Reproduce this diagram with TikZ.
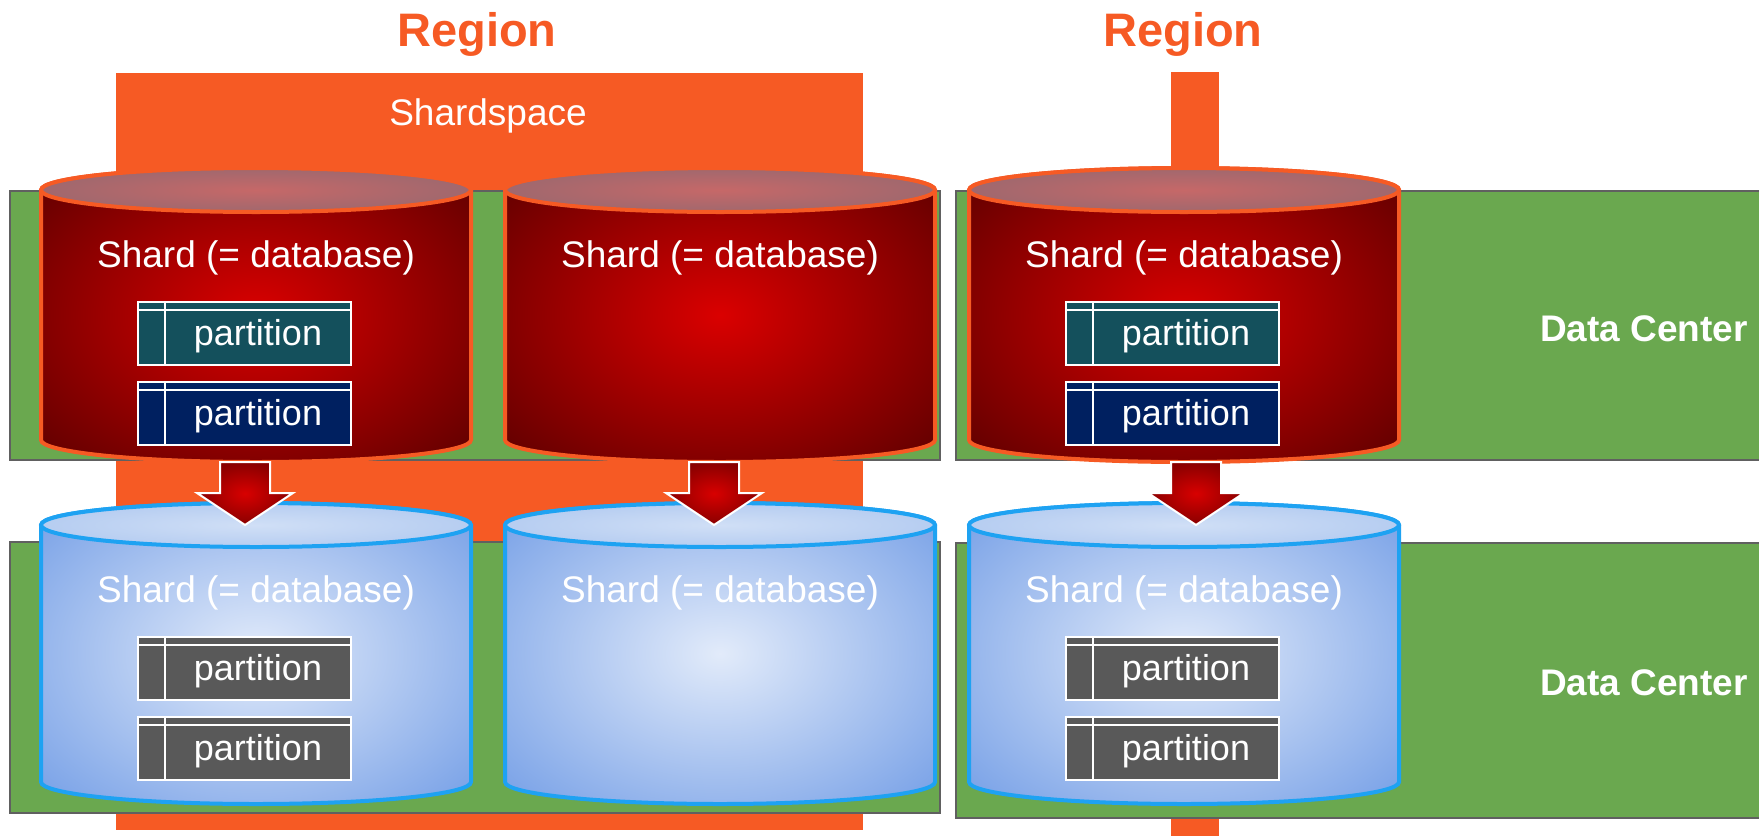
\documentclass[tikz,border=0pt]{standalone}
\usepackage{fontspec}
\setmainfont{Liberation Sans}

\definecolor{regionorange}{RGB}{246,90,36}
\definecolor{dcgreen}{RGB}{106,168,79}
\definecolor{dcedge}{RGB}{96,96,96}
\definecolor{shardred}{RGB}{218,0,0}
\definecolor{sharddark}{RGB}{92,0,0}
\definecolor{lidred}{RGB}{198,104,104}
\definecolor{lidredrim}{RGB}{160,104,110}
\definecolor{replicalight}{RGB}{226,235,250}
\definecolor{replicadark}{RGB}{116,158,230}
\definecolor{lidblue}{RGB}{208,223,246}
\definecolor{lidbluerim}{RGB}{182,205,241}
\definecolor{replicaedge}{RGB}{30,162,242}
\definecolor{partteal}{RGB}{20,80,92}
\definecolor{partnavy}{RGB}{0,32,96}
\definecolor{partgray}{RGB}{89,89,89}
\definecolor{dropred}{RGB}{216,0,0}
\definecolor{dropdark}{RGB}{136,0,0}

% soft radial fills, dark colour only reached towards the corners
\pgfdeclareradialshading{primarybody}{\pgfpoint{0bp}{0bp}}{color(0bp)=(shardred); color(36bp)=(sharddark); color(50bp)=(sharddark)}
\pgfdeclareradialshading{replicabody}{\pgfpoint{0bp}{0bp}}{color(0bp)=(replicalight); color(36bp)=(replicadark); color(50bp)=(replicadark)}

\begin{document}
\begin{tikzpicture}[x=1pt, y=-1pt,
		region title/.style={text=regionorange, font=\fontsize{47}{52}\selectfont\bfseries},
		space title/.style={text=white, font=\fontsize{37}{42}\selectfont},
		dc title/.style={text=white, font=\fontsize{37}{42}\selectfont\bfseries},
		shard title/.style={text=white, font=\fontsize{37}{42}\selectfont},
		dc box/.style={fill=dcgreen, draw=dcedge, line width=2},
		red body/.style={shade, shading=primarybody, draw=regionorange, line width=4},
		red lid/.style={inner color=lidred, outer color=lidredrim, draw=regionorange, line width=4},
		blue body/.style={shade, shading=replicabody, draw=replicaedge, line width=4},
		blue lid/.style={inner color=lidblue, outer color=lidbluerim, draw=replicaedge, line width=4},
		part/.style={draw=white, line width=2, minimum width=213, minimum height=63, inner sep=0,
			text height=28, text depth=4,
			text=white, font=\fontsize{36}{40}\selectfont,
			path picture={
				\draw[white, line width=2] ([yshift=-8pt]path picture bounding box.north west) -- ([yshift=-8pt]path picture bounding box.north east);
				\draw[white, line width=2] ([xshift=27pt]path picture bounding box.north west) -- ([xshift=27pt]path picture bounding box.south west);
			}},
		drop/.style={inner color=dropred, outer color=dropdark, draw=white, line width=2, line join=miter}
	]
	\useasboundingbox (0,0) rectangle (1759,836);

	% regions and the shardspace
	\fill[regionorange] (116,73) rectangle (863,830);
	\fill[regionorange] (1171,72) rectangle (1219,836);
	\node[region title] (region-1) at (477,34) {Region};
	\node[region title] (region-2) at (1183,34) {Region};
	\node[space title] (shardspace) at (488,116) {Shardspace};

	% data centers
	\foreach \dx/\dy/\dw/\dh in {10/191/930/269, 956/191/814/269, 10/542/930/271, 956/543/814/275} {
		\path[dc box] (\dx,\dy) rectangle ++(\dw,\dh);
	}
	\node[dc title] (dc-1) at (1644,329) {Data Center};
	\node[dc title] (dc-2) at (1644,683) {Data Center};

	% shards: primaries on top, replicas below
	\foreach \cx/\top/\bot/\kind/\np/\pa/\pb [count=\k] in {
			256/190/440/red/2/partteal/partnavy,
			720/190/440/red/0/partteal/partnavy,
			1184/190/440/red/2/partteal/partnavy,
			256/525/782/blue/2/partgray/partgray,
			720/525/782/blue/0/partgray/partgray,
			1184/525/782/blue/2/partgray/partgray} {
		\path[\kind\space body] ({\cx-215},\top) -- ({\cx-215},\bot)
			arc[start angle=180, end angle=0, x radius=215, y radius=22]
			-- ({\cx+215},\top)
			arc[start angle=0, end angle=-180, x radius=215, y radius=22] -- cycle;
		\path[\kind\space lid] (\cx,\top) ellipse[x radius=215, y radius=22];
		\node[shard title] (shard-\k) at (\cx,{\top+68}) {Shard (= database)};
		\ifnum\np>0
			\node[part, fill=\pa] (part-\k-1) at ({\cx-11.5},{\top+143.5}) {\hspace*{27pt}partition};
			\node[part, fill=\pb] (part-\k-2) at ({\cx-11.5},{\top+223.5}) {\hspace*{27pt}partition};
		\fi
	}

	% replication arrows
	\foreach \ax in {245,714,1196} {
		\path[drop] (\ax,462) coordinate (src-\ax) ++(-25,0) -- ++(50,0) -- ++(0,31) -- ++(23,0)
			-- ++(-48,32) coordinate (dst-\ax) -- ++(-48,-32) -- ++(23,0) -- cycle;
	}
\end{tikzpicture}
\end{document}
